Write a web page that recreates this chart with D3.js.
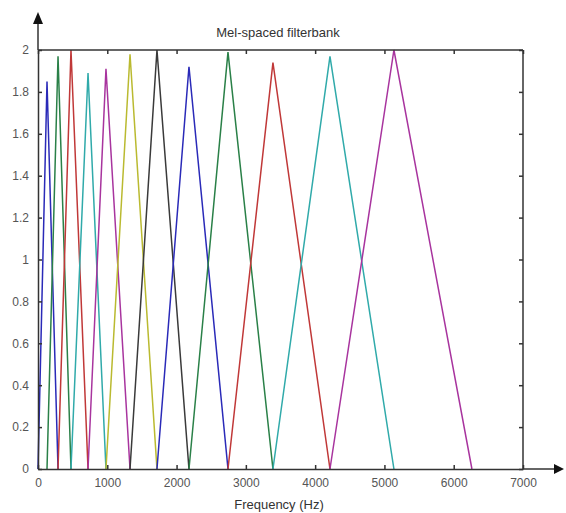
<!DOCTYPE html>
<html>
<head>
<meta charset="utf-8">
<script src="https://cdn.jsdelivr.net/npm/d3@7"></script>
<style>
  body { margin: 0; background: #fff; }
  svg { display: block; font-family: "Liberation Sans", Arial, sans-serif; }
</style>
</head>
<body>
<script>
(function (d3) {
'use strict';
// filter edges in Hz (start, 12 centres, end)
var edgeFreqs = [0, 130, 289, 476, 722, 981, 1328, 1717, 2179, 2742, 3391, 4214, 5137, 6263];
var peakHeights = [1.85, 1.97, 2.0, 1.89, 1.91, 1.98, 2.0, 1.92, 1.99, 1.94, 1.97, 2.0];
var filterColors = ['#2a2ab8', '#2a8048', '#c03838', '#30aaaa', '#a8349e', '#baba30', '#3a3a3a',
                    '#2a2ab8', '#2a8048', '#c03838', '#30aaaa', '#a8349e'];
var xTicks = [0, 1000, 2000, 3000, 4000, 5000, 6000, 7000];
var yTicks = [0, 0.2, 0.4, 0.6, 0.8, 1, 1.2, 1.4, 1.6, 1.8, 2];

var width = 566,
    height = 513,
    mLeft = 38, mRight = 523, mTop = 50, mBottom = 469;

var svg = d3.select('body').append('svg')
    .attr('width', width)
    .attr('height', height);

var x = d3.scaleLinear().domain([0, 7000]).range([mLeft, mRight]);
var y = d3.scaleLinear().domain([0, 2]).range([mBottom, mTop]);

var filters = peakHeights.map(function (h, i) {
  return [[edgeFreqs[i], 0], [edgeFreqs[i + 1], h], [edgeFreqs[i + 2], 0]];
});

var line = d3.line()
  .x(function (d) { return x(d[0]); })
  .y(function (d) { return y(d[1]); });

// box (top & right) with inward ticks
var topAxis = svg.append('g')
  .attr('transform', 'translate(0,' + mTop + ')')
  .call(d3.axisTop(x).tickValues(xTicks).tickSize(-4).tickFormat(''));
var rightAxis = svg.append('g')
  .attr('transform', 'translate(' + mRight + ',0)')
  .call(d3.axisRight(y).tickValues(yTicks).tickSize(-4).tickFormat(''));

svg.selectAll('path.filter')
  .data(filters)
  .enter()
  .append('path')
  .attr('class', 'filter')
  .attr('d', line)
  .attr('fill', 'none')
  .attr('stroke', function (d, i) { return filterColors[i]; })
  .attr('stroke-width', 1.5);

var bottomAxis = svg.append('g')
  .attr('transform', 'translate(0,' + mBottom + ')')
  .call(d3.axisBottom(x).tickValues(xTicks).tickSizeInner(-4).tickSizeOuter(0).tickPadding(9)
    .tickFormat(d3.format('d')));
var leftAxis = svg.append('g')
  .attr('transform', 'translate(' + mLeft + ',0)')
  .call(d3.axisLeft(y).tickValues(yTicks).tickSizeInner(-4).tickSizeOuter(0).tickPadding(9)
    .tickFormat(d3.format('~g')));

[topAxis, rightAxis, bottomAxis, leftAxis].forEach(function (g) {
  g.select('.domain').attr('stroke', '#333').attr('stroke-width', 1.5);
  g.selectAll('.tick line').attr('stroke', '#333').attr('stroke-width', 1.5);
  g.selectAll('.tick text').attr('fill', '#555').style('font-size', '12px');
});
topAxis.select('.domain').remove();
rightAxis.select('.domain').remove();
svg.append('line')
  .attr('x1', mLeft).attr('x2', mRight).attr('y1', mTop).attr('y2', mTop)
  .attr('stroke', '#333').attr('stroke-width', 1.5);
svg.append('line')
  .attr('x1', mRight).attr('x2', mRight).attr('y1', mTop).attr('y2', mBottom)
  .attr('stroke', '#333').attr('stroke-width', 1.5);

// arrow extensions of the axes
svg.append('line')
  .attr('x1', mRight).attr('x2', 556).attr('y1', mBottom).attr('y2', mBottom)
  .attr('stroke', '#333').attr('stroke-width', 1.5);
svg.append('path')
  .attr('d', 'M564,' + mBottom + 'L554,' + (mBottom - 5) + 'L554,' + (mBottom + 5) + 'Z')
  .attr('fill', '#111');
svg.append('line')
  .attr('x1', mLeft).attr('x2', mLeft).attr('y1', mTop).attr('y2', 22)
  .attr('stroke', '#333').attr('stroke-width', 1.5);
svg.append('path')
  .attr('d', 'M' + mLeft + ',12L' + (mLeft - 5) + ',24L' + (mLeft + 5) + ',24Z')
  .attr('fill', '#111');

svg.append('text')
  .attr('x', 278).attr('y', 37)
  .attr('text-anchor', 'middle')
  .attr('fill', '#333')
  .style('font-size', '13px')
  .text('Mel-spaced filterbank');

svg.append('text')
  .attr('x', 279).attr('y', 509)
  .attr('text-anchor', 'middle')
  .attr('fill', '#333')
  .style('font-size', '13px')
  .text('Frequency (Hz)');
})(d3);
</script>
</body>
</html>
